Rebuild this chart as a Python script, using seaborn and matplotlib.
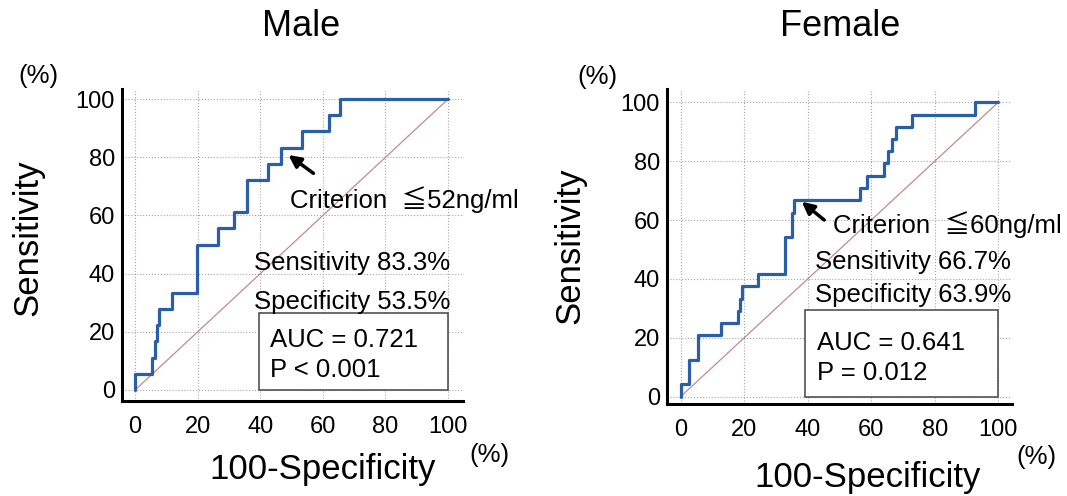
import matplotlib
matplotlib.use("Agg")
import matplotlib.pyplot as plt
from matplotlib.patches import Rectangle
from matplotlib.ticker import MultipleLocator
import pandas as pd
import seaborn as sns

# ROC corner points (100-specificity %, sensitivity %)
male_fpr = [0, 0, 5.3, 6.4, 7.0, 7.5, 11.7, 19.7, 26.4, 31.6, 35.6, 35.9, 42.6, 46.5, 53.4, 62.0, 65.4, 100]
male_tpr = [0, 5.6, 11.1, 16.7, 22.2, 27.8, 33.3, 50.0, 55.6, 61.1, 66.7, 72.2, 77.8, 83.3, 88.9, 94.4, 100, 100]

female_fpr = [0, 0, 2.6, 5.5, 12.8, 17.9, 18.6, 19.2, 24.4, 32.8, 35.0, 35.7, 56.4, 58.8, 63.9,
              65.4, 66.5, 67.8, 72.7, 92.8, 100]
female_tpr = [0, 4.2, 12.5, 20.8, 25.0, 29.2, 33.3, 37.5, 41.7, 54.2, 62.5, 66.7, 70.8, 75.0, 79.2,
              83.3, 87.5, 91.7, 95.8, 100, 100]

groups = ["Male", "Female"]
criteria = ["\u226652ng/ml", "\u226660ng/ml"]
sens = ["83.3%", "66.7%"]
spec = ["53.5%", "63.9%"]
auc = ["0.721", "0.641"]
pvals = ["P < 0.001", "P = 0.012"]

sns.set_style("white")
plt.rcParams["font.family"] = ["Liberation Sans", "Noto Sans CJK JP", "DejaVu Sans"]
plt.rcParams["text.color"] = "black"
plt.rcParams["axes.labelcolor"] = "black"
plt.rcParams["xtick.color"] = "black"
plt.rcParams["ytick.color"] = "black"

W, H = 1067, 496
fig = plt.figure(figsize=(W / 100, H / 100), dpi=100)


def fx(px):
    return px / W


def fy(py):
    return 1 - py / H


# axes boxes in pixels: left, top, right, bottom
boxes = [(122, 89.3, 462.7, 400.7), (666.7, 89.3, 1011.7, 404)]
limits = [((-4.2, 104.7), (-3.7, 103.4)), ((-4.4, 104.2), (-2.5, 104.4))]

curves = [(male_fpr, male_tpr), (female_fpr, female_tpr)]

# text layout (data coords) per panel
crit_pos = [(49.5, 65.4), (48.1, 58.3)]
sens_pos = [(38.1, 43.6), (42.3, 45.9)]
spec_pos = [(38.1, 30.4), (42.3, 34.5)]
auc_pos = [(43.1, 17.2), (42.8, 18.1)]
p_pos = [(43.1, 6.9), (42.8, 7.9)]
box_rect = [(39.5, 26.5), (39.2, 29.4)]
arrow_tip = [(49.0, 80.8), (38.1, 66.2)]
arrow_tail = [(57.0, 74.5), (45.2, 60.0)]

title_xy = [(301, 26), (840, 26)]
ylab_xy = [(28, 238), (570, 246)]
xlab_xy = [(323, 470), (868, 477)]
pct_top = [(38, 76), (597, 77)]
pct_bot = [(489, 455), (1036, 457)]

for i, g in enumerate(groups):
    l, t, r, b = boxes[i]
    ax = fig.add_axes([fx(l), fy(b), (r - l) / W, (b - t) / H])
    df = pd.DataFrame({"fpr": curves[i][0], "tpr": curves[i][1]})

    ax.plot([0, 100], [0, 100], color="#c48a8a", lw=0.9, zorder=2)
    sns.lineplot(data=df, x="fpr", y="tpr", sort=False, estimator=None,
                 drawstyle="steps-post", color="#2a5ea8", lw=2.3, ax=ax, zorder=3)

    ax.set_xlim(*limits[i][0])
    ax.set_ylim(*limits[i][1])
    ax.xaxis.set_major_locator(MultipleLocator(20))
    ax.yaxis.set_major_locator(MultipleLocator(20))
    ax.xaxis.set_minor_locator(MultipleLocator(5))
    ax.yaxis.set_minor_locator(MultipleLocator(5))
    ax.grid(True, which="major", linestyle=":", color="#a5a5a5", lw=0.8)
    ax.set_axisbelow(True)
    for s in ["top", "right"]:
        ax.spines[s].set_visible(False)
    for s in ["left", "bottom"]:
        ax.spines[s].set_linewidth(2.2)
        ax.spines[s].set_color("black")
    ax.tick_params(which="major", direction="in", length=6, width=1, labelsize=17, color="black")
    ax.tick_params(which="minor", direction="in", length=4, width=1, color="black")
    ax.tick_params(axis="x", pad=11)
    ax.tick_params(axis="y", pad=5)
    ax.set_xlabel("")
    ax.set_ylabel("")

    bx, bh = box_rect[i]
    ax.add_patch(Rectangle((bx, 0), 100 - bx, bh, facecolor="white",
                           edgecolor="#444444", lw=1.1, zorder=4))
    ax.text(*auc_pos[i], f"AUC = {auc[i]}", fontsize=18.5, va="center", zorder=5)
    ax.text(*p_pos[i], pvals[i], fontsize=18.5, va="center", zorder=5)
    ax.text(*sens_pos[i], f"Sensitivity {sens[i]}", fontsize=18.5, va="center", zorder=5)
    ax.text(*spec_pos[i], f"Specificity {spec[i]}", fontsize=18.5, va="center", zorder=5)
    ax.text(*crit_pos[i], f"Criterion  {criteria[i]}", fontsize=18.5, va="center", zorder=5)
    ax.annotate("", xy=arrow_tip[i], xytext=arrow_tail[i], zorder=5,
                arrowprops=dict(arrowstyle="-|>", color="black", lw=2.5, mutation_scale=18,
                                shrinkA=0, shrinkB=0))

    fig.text(fx(title_xy[i][0]), fy(title_xy[i][1]), g, fontsize=26, ha="center", va="center")
    fig.text(fx(ylab_xy[i][0]), fy(ylab_xy[i][1]), "Sensitivity", fontsize=25,
             rotation=90, ha="center", va="center")
    fig.text(fx(xlab_xy[i][0]), fy(xlab_xy[i][1]), "100-Specificity", fontsize=25,
             ha="center", va="center")
    fig.text(fx(pct_top[i][0]), fy(pct_top[i][1]), "(%)", fontsize=18.5, ha="center", va="center")
    fig.text(fx(pct_bot[i][0]), fy(pct_bot[i][1]), "(%)", fontsize=18.5, ha="center", va="center")

fig.savefig("out.png", dpi=100)
